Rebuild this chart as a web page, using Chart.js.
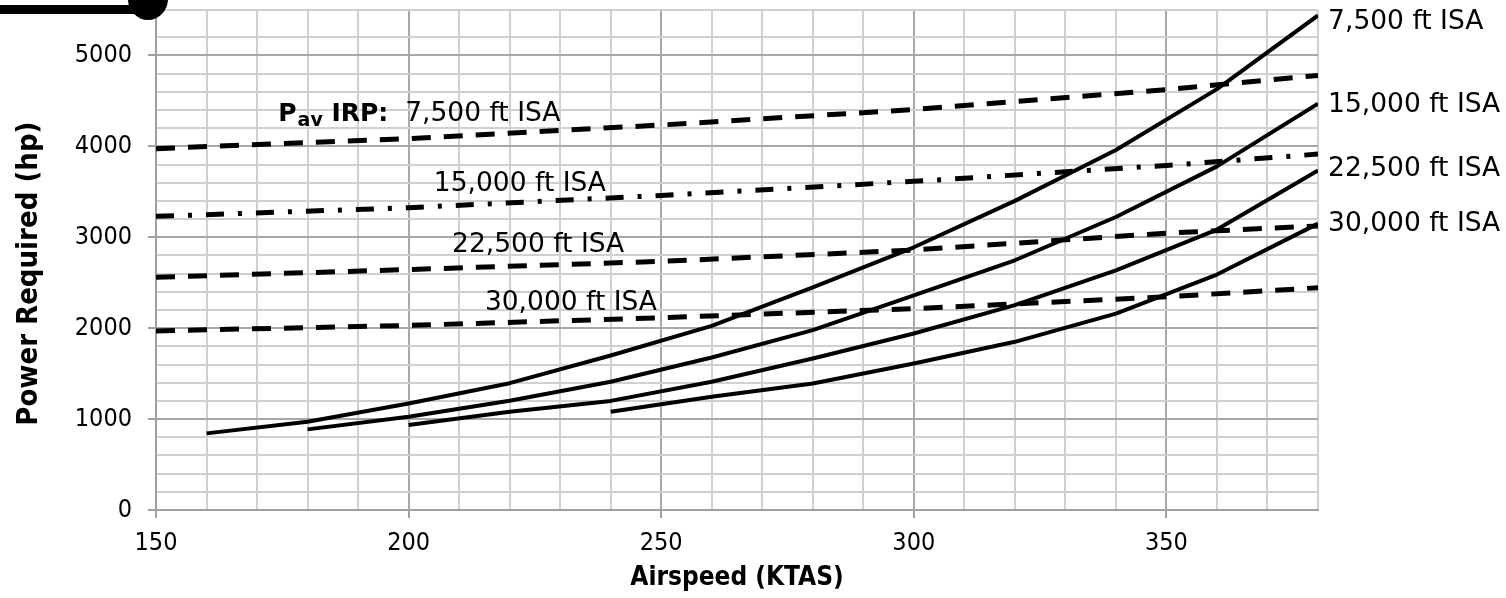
<!DOCTYPE html>
<html>
<head>
<meta charset="utf-8">
<script src="https://cdn.jsdelivr.net/npm/chart.js@4.4.1/dist/chart.umd.min.js"></script>
<style>
  html, body { margin: 0; padding: 0; background: #fff; }
  #wrap { width: 1506px; height: 598px; position: relative; }
</style>
</head>
<body>
<div id="wrap"><canvas id="powerChart"></canvas></div>
<script>
// Power required (solid) - airspeed every 20 kt
const reqSpeeds7500 = [160, 180, 200, 220, 240, 260, 280, 300, 320, 340, 360, 380];
const reqPower7500 = [843, 970, 1172, 1395, 1700, 2025, 2450, 2890, 3400, 3960, 4630, 5440];
const reqSpeeds15000 = [180, 200, 220, 240, 260, 280, 300, 320, 340, 360, 380];
const reqPower15000 = [887, 1025, 1201, 1410, 1678, 1978, 2360, 2747, 3223, 3780, 4469];
const reqSpeeds22500 = [200, 220, 240, 260, 280, 300, 320, 340, 360, 380];
const reqPower22500 = [934, 1080, 1200, 1410, 1667, 1941, 2253, 2637, 3085, 3736];
const reqSpeeds30000 = [240, 260, 280, 300, 320, 340, 360, 380];
const reqPower30000 = [1080, 1245, 1392, 1612, 1850, 2160, 2590, 3150];

// Power available at IRP (broken lines)
const availSpeeds = [150, 200, 250, 300, 350, 380];
const availPower7500 = [3975, 4085, 4235, 4405, 4625, 4780];
const availPower15000 = [3230, 3325, 3460, 3615, 3790, 3915];
const availPower22500 = [2560, 2645, 2735, 2860, 3045, 3125];
const availPower30000 = [1970, 2030, 2115, 2215, 2345, 2445];

// text labels, in data units (knots, hp)
const curveLabels = [
  { text: '15,000 ft ISA', x: 205, y: 3513 },
  { text: '22,500 ft ISA', x: 208.6, y: 2834 },
  { text: '30,000 ft ISA', x: 215.1, y: 2195 },
  { text: '7,500 ft ISA', x: 382, y: 5290 },
  { text: '15,000 ft ISA', x: 382, y: 4380 },
  { text: '22,500 ft ISA', x: 382, y: 3677 },
  { text: '30,000 ft ISA', x: 382, y: 3074 }
];
const pavLabel = { x: 174.2, y: 4281, rest: '7,500 ft ISA' };

const AXIS_FONT = '"DejaVu Sans Condensed", "DejaVu Sans", sans-serif';
const LABEL_FONT = '"DejaVu Sans", sans-serif';
Chart.defaults.font.family = AXIS_FONT;
Chart.defaults.color = '#000';

const pts = (xs, ys) => xs.map((x, i) => ({ x: x, y: ys[i] }));

function solid(data) {
  return { data: data, borderColor: '#000', borderWidth: 4, pointRadius: 0, tension: 0, borderJoinStyle: 'round' };
}
function broken(data, dash) {
  return { data: data, borderColor: '#000', borderWidth: 5, pointRadius: 0, tension: 0, borderDash: dash, borderCapStyle: 'butt' };
}

const labelPlugin = {
  id: 'curveLabels',
  afterDatasetsDraw(chart) {
    const { ctx, scales: { x, y } } = chart;
    ctx.save();
    ctx.fillStyle = '#000';
    ctx.textBaseline = 'alphabetic';
    ctx.textAlign = 'left';
    ctx.font = '26.5px ' + LABEL_FONT;
    curveLabels.forEach(l => ctx.fillText(l.text, x.getPixelForValue(l.x), y.getPixelForValue(l.y)));

    // "Pav IRP: 7,500 ft ISA"
    let px = x.getPixelForValue(pavLabel.x);
    const py = y.getPixelForValue(pavLabel.y);
    ctx.font = 'bold 25px ' + LABEL_FONT;
    ctx.fillText('P', px, py);
    px += ctx.measureText('P').width + 1;
    ctx.font = 'bold 19px ' + LABEL_FONT;
    ctx.fillText('av', px, py + 5);
    px += ctx.measureText('av').width;
    ctx.font = 'bold 25px ' + LABEL_FONT;
    ctx.fillText(' IRP:', px, py);
    px += ctx.measureText(' IRP:').width;
    ctx.font = '26.5px ' + LABEL_FONT;
    ctx.fillText('  ' + pavLabel.rest, px, py);
    ctx.restore();
  }
};

// leftover black arrow stroke cut by the top-left corner of the picture
const cornerMark = {
  id: 'cornerMark',
  afterDraw(chart) {
    const ctx = chart.ctx;
    ctx.save();
    ctx.fillStyle = '#000';
    ctx.fillRect(0, 5, 140, 9);
    ctx.beginPath();
    ctx.ellipse(148, -1, 20, 21, 0, 0, Math.PI * 2);
    ctx.fill();
    ctx.restore();
  }
};

new Chart(document.getElementById('powerChart'), {
  type: 'line',
  data: {
    datasets: [
      broken(pts(availSpeeds, availPower7500), [19, 13]),
      broken(pts(availSpeeds, availPower15000), [18, 14, 4, 14]),
      broken(pts(availSpeeds, availPower22500), [19, 13]),
      broken(pts(availSpeeds, availPower30000), [19, 13]),
      solid(pts(reqSpeeds7500, reqPower7500)),
      solid(pts(reqSpeeds15000, reqPower15000)),
      solid(pts(reqSpeeds22500, reqPower22500)),
      solid(pts(reqSpeeds30000, reqPower30000))
    ]
  },
  options: {
    responsive: true,
    maintainAspectRatio: false,
    animation: false,
    layout: { padding: { left: 0, top: 10, right: 188, bottom: 0 } },
    plugins: { legend: { display: false }, tooltip: { enabled: false } },
    scales: {
      x: {
        type: 'linear',
        min: 150,
        max: 380,
        afterFit: s => { s.height = 88; s.paddingLeft = 0; s.paddingRight = 0; },
        border: { color: '#a0a0a0', width: 2 },
        grid: {
          color: c => c.tick && c.tick.value % 50 === 0 ? '#a8a8a8' : '#d0d0d0',
          lineWidth: 2,
          tickLength: 8,
          tickColor: c => c.tick && c.tick.value % 50 === 0 ? '#a0a0a0' : 'rgba(0,0,0,0)'
        },
        ticks: {
          stepSize: 10,
          autoSkip: false,
          maxRotation: 0,
          padding: 10,
          font: { size: 25 },
          callback: v => v % 50 === 0 ? v : ''
        },
        title: { display: true, text: 'Airspeed (KTAS)', font: { size: 26, weight: 'bold' }, padding: { top: 0, bottom: 4 } }
      },
      y: {
        min: 0,
        max: 5500,
        afterFit: s => { s.width = 156; s.paddingTop = 0; s.paddingBottom = 0; },
        border: { color: '#a0a0a0', width: 2 },
        grid: {
          color: c => c.tick && c.tick.value % 1000 === 0 ? '#a8a8a8' : '#d0d0d0',
          lineWidth: 2,
          tickLength: 8,
          tickColor: c => c.tick && c.tick.value % 1000 === 0 ? '#a0a0a0' : 'rgba(0,0,0,0)'
        },
        ticks: {
          stepSize: 200,
          autoSkip: false,
          padding: 16,
          font: { size: 25 },
          callback: v => v % 1000 === 0 ? v : ''
        },
        title: { display: true, text: 'Power Required (hp)   ', font: { size: 29, weight: 'bold' }, padding: { top: 12, bottom: 0 } }
      }
    }
  },
  plugins: [labelPlugin, cornerMark]
});
</script>
</body>
</html>
